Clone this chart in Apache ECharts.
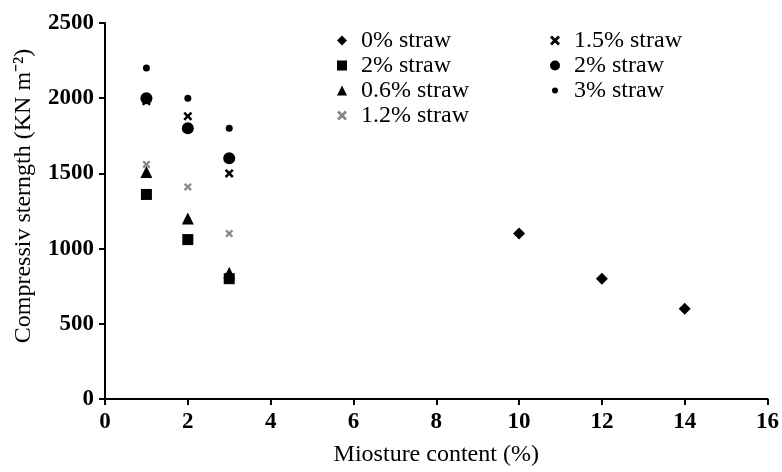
<!DOCTYPE html>
<html><head><meta charset="utf-8">
<script src="https://cdn.jsdelivr.net/npm/echarts@6/dist/echarts.min.js"></script>
<style>html,body{margin:0;padding:0;background:#fff}#c{width:782px;height:472px}</style>
</head><body><div id="c"></div>
<script>
const xTicks = [0, 2, 4, 6, 8, 10, 12, 14, 16];
const yTicks = [0, 500, 1000, 1500, 2000, 2500];
const straw0 = [[10, 1100], [12, 800], [14, 600]];
const straw2sq = [[1, 1360], [2, 1060], [3, 800]];
const straw06 = [[1, 1510], [2, 1200], [3, 840]];
const straw12 = [[1, 1560], [2, 1410], [3, 1100]];
const straw15 = [[1, 1980], [2, 1880], [3, 1500]];
const straw2c = [[1, 2000], [2, 1800], [3, 1600]];
const straw3 = [[1, 2200], [2, 2000], [3, 1800]];

const star = 'path://M0,2 L2,0 L5,3 L8,0 L10,2 L7,5 L10,8 L8,10 L5,7 L2,10 L0,8 L3,5 Z';
const font = '"Liberation Serif", "Times New Roman", serif';

const series = [
  {name: '0% straw', data: straw0, symbol: 'diamond', symbolSize: 12, color: '#000'},
  {name: '2% straw', data: straw2sq, symbol: 'rect', symbolSize: 11, color: '#000'},
  {name: '0.6% straw', data: straw06, symbol: 'triangle', symbolSize: 12, color: '#000'},
  {name: '1.2% straw', data: straw12, symbol: star, symbolSize: 8, color: '#888'},
  {name: '1.5% straw', data: straw15, symbol: star, symbolSize: 9, color: '#000'},
  {name: '2% straw ', data: straw2c, symbol: 'circle', symbolSize: 12, color: '#000'},
  {name: '3% straw', data: straw3, symbol: 'circle', symbolSize: 7, color: '#000'}
].map(s => ({type: 'scatter', name: s.name, data: s.data, symbol: s.symbol, symbolSize: s.symbolSize,
  itemStyle: {color: s.color, opacity: 1}, emphasis: {disabled: true}}));

const legendText = {fontFamily: font, fontSize: 24, color: '#000', lineHeight: 25, padding: [0, 0, 0, 9]};
const legendBase = {orient: 'vertical', top: 23, itemWidth: 10, itemHeight: 10, itemGap: 0,
  textStyle: legendText, formatter: n => n.trim(), selectedMode: false};
const chart = echarts.init(document.getElementById('c'));
chart.setOption({
  animation: false,
  backgroundColor: '#fff',
  grid: {left: 105, right: 14, top: 23, bottom: 72, containLabel: false},
  legend: [
    Object.assign({}, legendBase, {left: 332, data: ['0% straw', '2% straw', '0.6% straw', '1.2% straw']}),
    Object.assign({}, legendBase, {left: 545, data: ['1.5% straw', '2% straw ']}),
    Object.assign({}, legendBase, {left: 547, top: 73, itemWidth: 6, itemHeight: 6,
      textStyle: Object.assign({}, legendText, {padding: [0, 0, 0, 11]}), data: ['3% straw']})
  ],
  graphic: [{
    type: 'text', x: 12, y: 196, rotation: Math.PI / 2,
    style: {text: 'Compressiv sterngth (KN m\u207B\u00B2)', font: '24px ' + font, fill: '#000',
      align: 'center', verticalAlign: 'top'}
  }],
  xAxis: {
    type: 'value', min: 0, max: 16, interval: 2,
    name: 'Miosture content (%)', nameLocation: 'middle', nameGap: 44,
    nameTextStyle: {fontFamily: font, fontSize: 24, color: '#000'},
    axisLine: {lineStyle: {color: '#000', width: 2}},
    axisTick: {show: true, length: 6, lineStyle: {color: '#000', width: 2}},
    axisLabel: {fontFamily: font, fontSize: 23, fontWeight: 'bold', color: '#000', margin: 12,
      formatter: v => xTicks.includes(v) ? String(v) : ''},
    splitLine: {show: false}
  },
  yAxis: {
    type: 'value', min: 0, max: 2500, interval: 500,
    axisLine: {show: true, lineStyle: {color: '#000', width: 2}},
    axisTick: {show: true, length: 6, lineStyle: {color: '#000', width: 2}},
    axisLabel: {fontFamily: font, fontSize: 23, fontWeight: 'bold', color: '#000', margin: 11,
      formatter: v => yTicks.includes(v) ? String(v) : ''},
    splitLine: {show: false}
  },
  series: series
});
</script></body></html>
